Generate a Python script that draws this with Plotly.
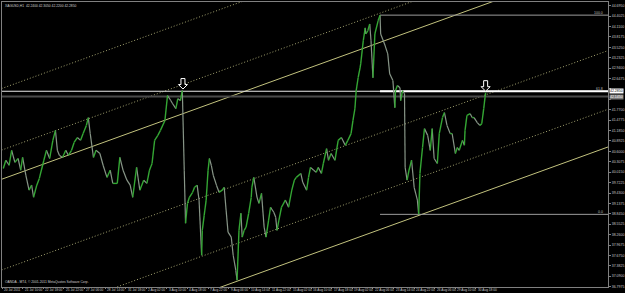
import plotly.graph_objects as go

# ---------------- data (hour index from first bar, price) ----------------
hours = [2, 6, 11, 15, 20, 25, 29, 32, 37, 42, 46, 49, 54, 58, 65, 69, 74, 79, 83, 86,
         89, 94, 99, 103, 108, 112, 117, 122, 126, 131, 134, 137, 142, 146, 152, 157, 163, 168, 172, 179,
         183, 188, 194, 199, 203, 209, 214, 220, 225, 229, 233, 237, 242, 246, 253, 257, 262, 265, 270, 273,
         277, 280, 283, 285, 288, 291, 296, 299, 303, 306, 310, 311, 314, 317, 320, 322, 325, 328, 333, 337,
         342, 345, 348, 351, 356, 359, 363, 365, 368, 371, 373, 376, 379, 383, 387, 388, 391, 396, 399, 403,
         407, 410, 414, 417, 422, 425, 427, 430, 434, 440, 445, 450, 454, 457, 464, 467, 473, 476, 479, 484,
         488, 491, 496, 499, 504, 507, 511, 517, 522, 527, 533, 537, 542, 545, 548, 550, 553, 556, 557, 561,
         564, 565, 568, 571, 573, 576, 579, 584, 587, 588, 591, 594, 599, 602, 607, 610, 611, 614, 618, 619,
         622, 625, 626, 629, 632, 636, 640, 645, 647, 649, 653, 656, 661, 665, 668, 671, 676, 679, 684, 687,
         691, 696, 699, 704, 707, 710, 715, 718, 719, 722, 727, 730, 733, 738, 742, 745, 748, 750, 751]
price = [40.12, 40.35, 40.21, 40.63, 40.29, 40.40, 40.07, 40.43, 39.93, 39.51, 39.65, 39.31, 39.65, 39.84, 40.35, 40.63, 40.40, 40.91, 41.19, 40.63,
         40.49, 40.43, 40.63, 40.49, 40.63, 40.85, 40.99, 40.91, 41.10, 41.33, 41.55, 41.10, 40.43, 40.63, 40.54, 40.21, 39.87, 40.07, 39.70, 39.70,
         40.43, 40.07, 39.79, 39.65, 39.31, 40.15, 39.51, 39.79, 39.70, 40.07, 40.26, 40.91, 41.05, 41.19, 41.47, 42.17, 42.03, 41.94, 41.80, 42.08,
         42.03, 42.31, 40.07, 38.58, 39.14, 39.31, 39.45, 39.59, 39.65, 39.23, 37.68, 38.38, 38.81, 39.23, 40.07, 40.40, 40.21, 39.93, 39.65, 39.45,
         39.51, 39.59, 38.95, 38.33, 38.19, 37.68, 37.26, 36.98, 38.38, 38.86, 38.19, 38.38, 38.47, 38.86, 39.31, 39.59, 39.87, 39.31, 39.14, 39.42,
         38.47, 38.19, 38.67, 39.03, 38.89, 38.75, 38.38, 38.67, 39.03, 39.23, 39.03, 39.51, 39.79, 39.87, 39.98, 39.73, 39.51, 39.87, 40.15, 40.07,
         40.01, 40.15, 39.98, 40.26, 40.68, 40.35, 40.54, 40.35, 40.91, 40.99, 40.77, 40.91, 41.10, 41.47, 41.80, 42.31, 42.67, 42.95, 43.06, 43.71,
         44.07, 43.90, 43.99, 44.18, 43.71, 42.67, 43.90, 44.27, 44.43, 43.90, 43.76, 43.62, 43.34, 42.78, 42.59, 41.83, 42.31, 42.45, 42.39, 42.03,
         42.31, 42.22, 40.15, 39.79, 40.07, 40.35, 39.59, 39.23, 38.83, 39.98, 40.71, 41.24, 41.05, 40.63, 41.24, 40.40, 40.26, 41.10, 41.55, 41.69,
         41.33, 41.10, 41.10, 40.54, 40.71, 40.63, 40.91, 40.77, 41.19, 41.61, 41.66, 41.55, 41.55, 41.41, 41.33, 41.38, 41.80, 42.11, 42.25]

# channel lines: price at hour 0, common slope (price per hour), solid or dotted
channel_start = [42.37, 40.64, 39.82, 37.27, 35.62, 34.56]
channel_solid = [False, False, True, False, False, True]
channel_slope = 0.00655

fib_high = 44.43
fib_low = 38.83
fib_start_hour = 587
fib_levels = [100.0, 61.8, 0.0]
hline_white = 42.29
hline_gray = 42.14
bid_label = "42.2850"
ask_label = "42.1450"
arrow_hours = [281, 751]
arrow_prices = [42.31, 42.25]

tick_prices = [44.6950, 44.4025, 44.1100, 43.8175, 43.5250, 43.2325, 42.9400, 42.6475, 42.3550, 42.0625,
               41.7700, 41.4775, 41.1850, 40.8925, 40.6000, 40.3075, 40.0150, 39.7225, 39.4300, 39.1375,
               38.8450, 38.5525, 38.2600, 37.9675, 37.6750, 37.3825, 37.0900, 36.7975]
hidden_ticks = [42.3550, 42.0625]
time_hours = [0, 32, 64, 96, 128, 160, 192, 224, 256, 288, 320, 352, 384, 416, 448, 480, 512, 544, 576, 608, 640, 672, 704, 736]
time_labels = ["20 Jul 2011", "21 Jul 10:00", "22 Jul 18:00", "25 Jul 22:00", "27 Jul 06:00", "28 Jul 14:00",
               "31 Jul 18:00", "2 Aug 02:00", "3 Aug 10:00", "4 Aug 18:00", "7 Aug 22:00", "9 Aug 06:00",
               "10 Aug 14:00", "11 Aug 22:00", "15 Aug 02:00", "16 Aug 10:00", "17 Aug 18:00", "19 Aug 02:00",
               "22 Aug 06:00", "23 Aug 14:00", "24 Aug 22:00", "26 Aug 06:00", "29 Aug 10:00", "30 Aug 18:00"]
header_text = "XAGUSD,H1  42.2400 42.3050 42.2200 42.2850"
footer_text = "OANDA - MT4, \u00a9 2001-2011 MetaQuotes Software Corp."

X_MAX = 941
Y_MIN, Y_MAX = 36.788, 44.799
SMALL = "Liberation Sans"

fig = go.Figure()

# channel lines
for p0, solid in zip(channel_start, channel_solid):
    fig.add_trace(go.Scatter(
        x=[-5, X_MAX + 5], y=[p0 - 5 * channel_slope, p0 + (X_MAX + 5) * channel_slope],
        mode="lines", hoverinfo="skip",
        line=dict(color="#c2c27e" if solid else "#a3a370", width=1,
                  dash="solid" if solid else "1px,2px")))

# horizontal lines
fig.add_trace(go.Scatter(x=[0, X_MAX], y=[hline_gray, hline_gray], mode="lines",
                         line=dict(color="#4a4a4a", width=2), hoverinfo="skip"))
fig.add_trace(go.Scatter(x=[0, X_MAX], y=[hline_white, hline_white], mode="lines",
                         line=dict(color="#e8e8e8", width=1.2), hoverinfo="skip"))

# fibonacci levels
for lev in fib_levels:
    pv = fib_low + (fib_high - fib_low) * lev / 100.0
    fig.add_trace(go.Scatter(x=[fib_start_hour, X_MAX], y=[pv, pv], mode="lines",
                             line=dict(color="#ffffff" if lev == 61.8 else "#9c9c9c",
                                       width=1.8 if lev == 61.8 else 1), hoverinfo="skip"))
    fig.add_annotation(x=X_MAX - 6, y=pv, text=f"{lev:.1f}", showarrow=False,
                       xanchor="right", yanchor="bottom", yshift=-1, borderpad=0,
                       font=dict(family=SMALL, size=3.5, color="#bdbdbd"))

# price series, rising segments green, falling segments grey
gx, gy, dx, dy = [], [], [], []
for i in range(len(price) - 1):
    if price[i + 1] >= price[i]:
        gx += [hours[i], hours[i + 1], None]
        gy += [price[i], price[i + 1], None]
    else:
        dx += [hours[i], hours[i + 1], None]
        dy += [price[i], price[i + 1], None]
fig.add_trace(go.Scatter(x=dx, y=dy, mode="lines", line=dict(color="#879587", width=1.2), hoverinfo="skip"))
fig.add_trace(go.Scatter(x=gx, y=gy, mode="lines", line=dict(color="#34a634", width=1.4), hoverinfo="skip"))

# hollow down arrows above the two tops (pixel-sized shapes anchored to data)
arrow_path = "M -2,12 L 2,12 L 2,6 L 4.5,6 L 0,1.5 L -4.5,6 L -2,6 Z"
for h, p in zip(arrow_hours, arrow_prices):
    fig.add_shape(type="path", xref="x", yref="y", xsizemode="pixel", ysizemode="pixel",
                  xanchor=h, yanchor=p, path=arrow_path,
                  line=dict(color="#ffffff", width=1), fillcolor="#000000")

# time labels
for h, t in zip(time_hours, time_labels):
    fig.add_annotation(x=h, y=0, yref="paper", text=t, showarrow=False, xanchor="left",
                       yanchor="top", xshift=1, yshift=0, borderpad=0,
                       font=dict(family=SMALL, size=3.2, color="#c8c8c8"))

# price boxes on the axis
fig.add_annotation(x=1, xref="paper", y=hline_white, text=bid_label, showarrow=False, xanchor="left",
                   xshift=1, bgcolor="#ffffff", borderpad=0,
                   font=dict(family=SMALL, size=3.5, color="#000000"))
fig.add_annotation(x=1, xref="paper", y=hline_gray, text=ask_label, showarrow=False, xanchor="left",
                   xshift=1, bgcolor="#7a7a7a", borderpad=0,
                   font=dict(family=SMALL, size=3.5, color="#ffffff"))

fig.add_annotation(x=0.003, y=1, xref="paper", yref="paper", text=header_text, showarrow=False,
                   xanchor="left", yanchor="top", yshift=-1, borderpad=0,
                   font=dict(family=SMALL, size=3.3, color="#d0d0d0"))
fig.add_annotation(x=0.003, y=0, xref="paper", yref="paper", text=footer_text, showarrow=False,
                   xanchor="left", yanchor="bottom", yshift=2, borderpad=0,
                   font=dict(family=SMALL, size=3.3, color="#d0d0d0"))

tick_text = ["" if v in hidden_ticks else f"{v:.4f}" for v in tick_prices]

fig.update_layout(
    width=625, height=293, margin=dict(l=1, r=13, t=1, b=6),
    paper_bgcolor="#000000", plot_bgcolor="#000000", showlegend=False,
    xaxis=dict(range=[0, X_MAX], showgrid=False, zeroline=False, showline=True, mirror=True,
               linecolor="#808080", linewidth=1, tickvals=time_hours, ticks="outside", ticklen=1,
               tickcolor="#808080", showticklabels=False, fixedrange=True),
    yaxis=dict(range=[Y_MIN, Y_MAX], side="right", showgrid=False, zeroline=False, showline=True,
               mirror=True, linecolor="#808080", linewidth=1, tickvals=tick_prices, ticktext=tick_text,
               ticks="outside", ticklen=2, tickcolor="#808080",
               tickfont=dict(family=SMALL, size=3.5, color="#c8c8c8"), fixedrange=True),
)

fig.write_html("out.html")
